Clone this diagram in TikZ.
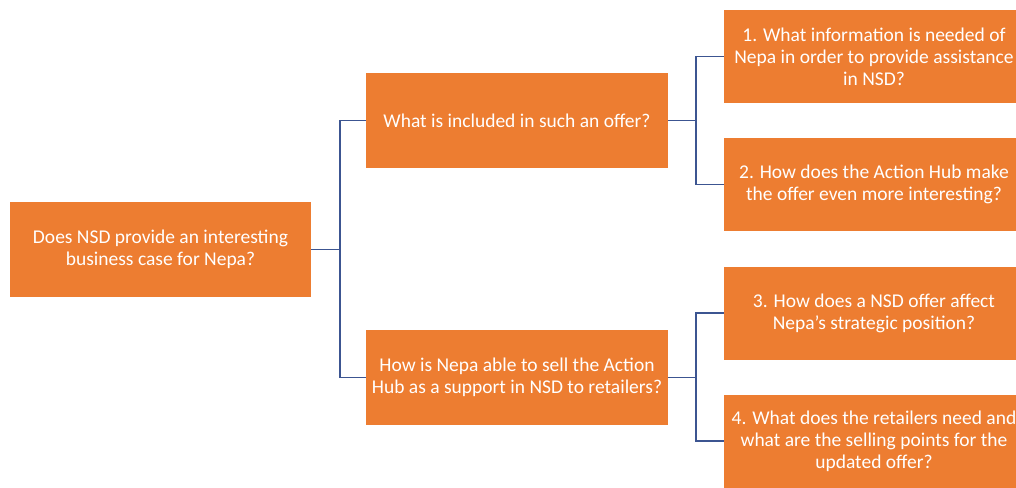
\documentclass[tikz,border=0pt]{standalone}
\usepackage{fontspec}
\setmainfont{Carlito}
\usepackage{xcolor}
\usepackage{tikz}
\usetikzlibrary{calc}
\definecolor{boxorange}{RGB}{237,125,49}
\definecolor{linkblue}{RGB}{60,85,145}
\tikzset{
  qbox/.style   = {draw=none, fill=boxorange, text=white, align=center,
                   font=\fontsize{19.5}{22}\selectfont, inner sep=0pt},
  rootbox/.style= {qbox, minimum width=301pt, minimum height=95pt},
  midbox/.style = {qbox, minimum width=302pt, minimum height=95pt},
  leafbox/.style= {qbox, minimum width=300pt, minimum height=93pt},
  link/.style   = {draw=linkblue, line width=1.8pt}
}
\begin{document}
\begin{tikzpicture}[x=1pt,y=-1pt]
  % page frame 1016 x 487, leaves run off the right edge
  \clip (0,0) rectangle (1016,487);
  \fill[white] (0,0) rectangle (1016,487);
  % main question
  \node[rootbox] (root) at (160.5,249.5) {Does NSD provide an interesting\\business case for Nepa?};
  % sub questions
  \node[midbox] (offer) at (517,120.5) {What is included in such an offer?};
  \node[midbox] (sell)  at (517,377.5) {How is Nepa able to sell the Action\\Hub as a support in NSD to retailers?};
  % detailed questions
  \node[leafbox] (q1) at (874,56.5)  {1. What information is needed of\\Nepa in order to provide assistance\\in NSD?};
  \node[leafbox] (q2) at (874,184.5) {2. How does the Action Hub make\\the offer even more interesting?};
  \node[leafbox] (q3) at (874,313)   {3. How does a NSD offer affect\\Nepa's strategic position?};
  \node[leafbox] (q4) at (874,441)   {4. What does the retailers need and\\what are the selling points for the\\updated offer?};
  % branch points
  \coordinate (b0) at ($(root.east)+(29,0)$);
  \coordinate (b1) at ($(offer.east)+(28,0)$);
  \coordinate (b2) at ($(sell.east)+(28,0)$);
  % connectors
  \draw[link] (root.east) -- (b0);
  \draw[link] (b0) |- (offer.west);
  \draw[link] (b0) |- (sell.west);
  \draw[link] (offer.east) -- (b1);
  \draw[link] (b1) |- (q1.west);
  \draw[link] (b1) |- (q2.west);
  \draw[link] (sell.east) -- (b2);
  \draw[link] (b2) |- (q3.west);
  \draw[link] (b2) |- (q4.west);
\end{tikzpicture}
\end{document}
